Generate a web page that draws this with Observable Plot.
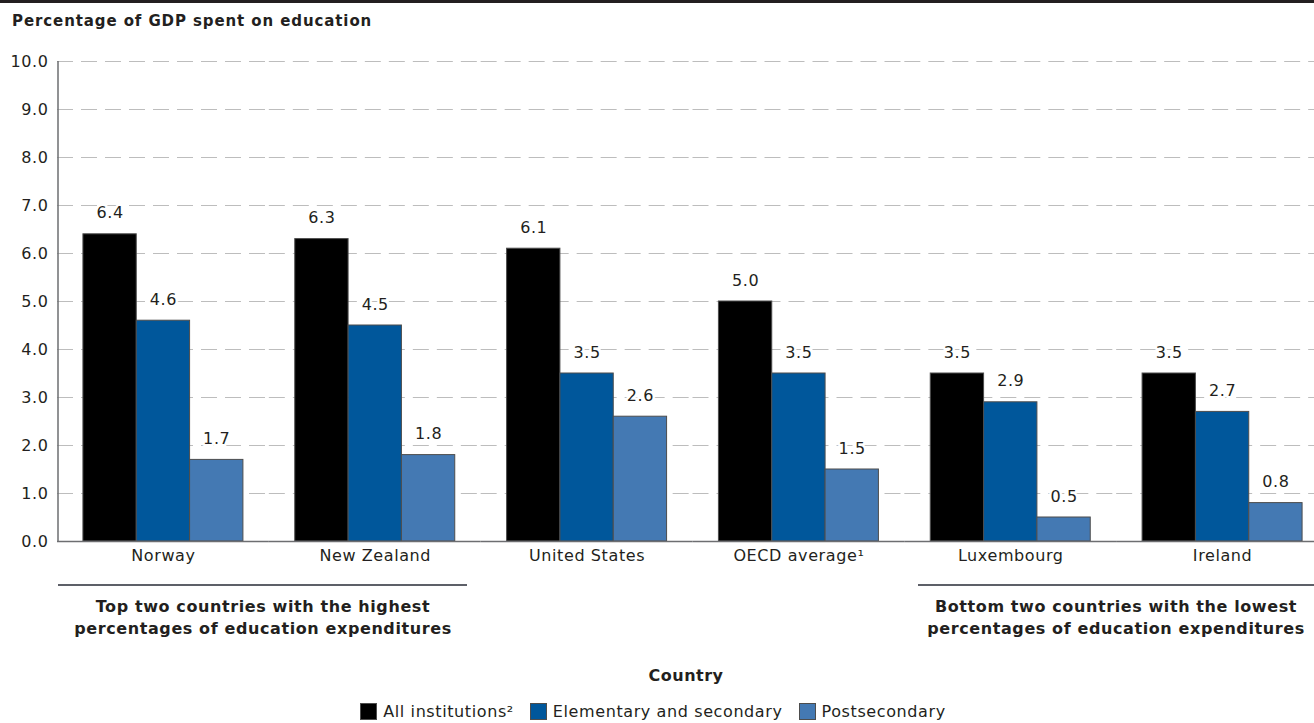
<!DOCTYPE html>
<html>
<head>
<meta charset="utf-8">
<script src="https://cdn.jsdelivr.net/npm/d3@7"></script>
<script src="https://cdn.jsdelivr.net/npm/@observablehq/plot@0.6"></script>
<style>
  html, body { margin: 0; padding: 0; background: #fff; }
  body { font-family: "DejaVu Sans", sans-serif; color: #231f20; }
  #wrap { position: relative; width: 1314px; height: 723px; overflow: hidden; }
  #topline { position: absolute; left: 0; top: 0; width: 1314px; height: 3px; background: #231f20; }
  #title { position: absolute; left: 12px; top: 12px; font-weight: bold; font-size: 15px; letter-spacing: 0.9px; white-space: nowrap; }
  #chart { position: absolute; left: 0; top: 0; }
  .grp { position: absolute; font-weight: bold; font-size: 16px; letter-spacing: 0.6px; line-height: 22px; text-align: center; white-space: nowrap; }
  .grpline { position: absolute; height: 2px; background: #5d6068; }
  #xlabel { position: absolute; font-weight: bold; font-size: 16px; letter-spacing: 0.5px; top: 666px; left: 0; width: 1372px; text-align: center; }
  #legend { position: absolute; top: 702px; left: 0; width: 1306px; display: flex; justify-content: center; font-size: 16px; letter-spacing: 0.6px; }
  .li { display: flex; align-items: center; margin: 0 8px; white-space: nowrap; }
  .sw { width: 17px; height: 17px; box-sizing: border-box; border: 1px solid #4d4d4d; margin-right: 6px; }
</style>
</head>
<body>
<div id="wrap">
  <div id="topline"></div>
  <div id="title">Percentage of GDP spent on education</div>
  <div id="chart"></div>
  <div class="grpline" style="left:58px; top:584px; width:409px;"></div>
  <div class="grpline" style="left:918px; top:584px; width:396px;"></div>
  <div class="grp" style="left:13px; width:500px; top:596px;">Top two countries with the highest<br>percentages of education expenditures</div>
  <div class="grp" style="left:866px; width:500px; top:596px;">Bottom two countries with the lowest<br>percentages of education expenditures</div>
  <div id="xlabel">Country</div>
  <div id="legend"></div>
</div>
<script>
const countries = ["Norway", "New Zealand", "United States", "OECD average¹", "Luxembourg", "Ireland"];
const series = ["All institutions²", "Elementary and secondary", "Postsecondary"];
const allInstitutions = [6.4, 6.3, 6.1, 5.0, 3.5, 3.5];
const elementarySecondary = [4.6, 4.5, 3.5, 3.5, 2.9, 2.7];
const postsecondary = [1.7, 1.8, 2.6, 1.5, 0.5, 0.8];
const yTicks = [0, 1, 2, 3, 4, 5, 6, 7, 8, 9, 10];
const seriesColors = ["#000000", "#00579b", "#4479b3"];

const seriesValues = [allInstitutions, elementarySecondary, postsecondary];
const data = [];
countries.forEach((c, i) => {
  series.forEach((s, j) => {
    data.push({country: c, series: s, value: seriesValues[j][i]});
  });
});

const chart = Plot.plot({
  width: 1314,
  height: 600,
  marginTop: 61,
  marginBottom: 59,
  marginLeft: 58,
  marginRight: 0,
  style: {fontFamily: "DejaVu Sans, sans-serif", fontSize: "16px", letterSpacing: "0.6px", color: "#231f20", background: "transparent", overflow: "visible"},
  fx: {domain: countries, range: [57, 1328], padding: 0, round: false, label: null},
  x: {domain: series, paddingInner: 0, paddingOuter: 0.486, round: false, axis: null},
  y: {domain: [0, 10], label: null},
  color: {domain: series, range: seriesColors},
  marks: [
    Plot.gridY(yTicks, {stroke: "#bdbdbd", strokeOpacity: 1, strokeWidth: 1, strokeDasharray: "16,8"}),
    Plot.axisY(yTicks, {tickSize: 0, tickPadding: 9, tickFormat: d => d.toFixed(1), label: null, fontSize: 16}),
    Plot.axisFx({anchor: "bottom", tickSize: 0, tickPadding: 8, label: null, fontSize: 16}),
    Plot.barY(data, {fx: "country", x: "series", y: "value", fill: "series", stroke: "#4d4d4d", strokeWidth: 1}),
    Plot.ruleY([0], {stroke: "#6d6e71", strokeWidth: 1.5}),
    Plot.text(data, {fx: "country", x: "series", y: "value", text: d => d.value.toFixed(1), dy: -21, fontSize: 16, fill: "#231f20", stroke: "white", strokeWidth: 5, paintOrder: "stroke"})
  ]
});

// vertical y-axis line drawn with the chart's y scale
const ys = chart.scale("y");
d3.select(chart).append("line")
  .attr("x1", 58).attr("x2", 58)
  .attr("y1", ys.apply(10)).attr("y2", ys.apply(0))
  .attr("stroke", "#6d6e71").attr("stroke-width", 1.5);

document.getElementById("chart").appendChild(chart);

const legend = d3.select("#legend");
series.forEach((s, j) => {
  const item = legend.append("div").attr("class", "li");
  item.append("div").attr("class", "sw").style("background", seriesColors[j]);
  item.append("span").text(s);
});
</script>
</body>
</html>
